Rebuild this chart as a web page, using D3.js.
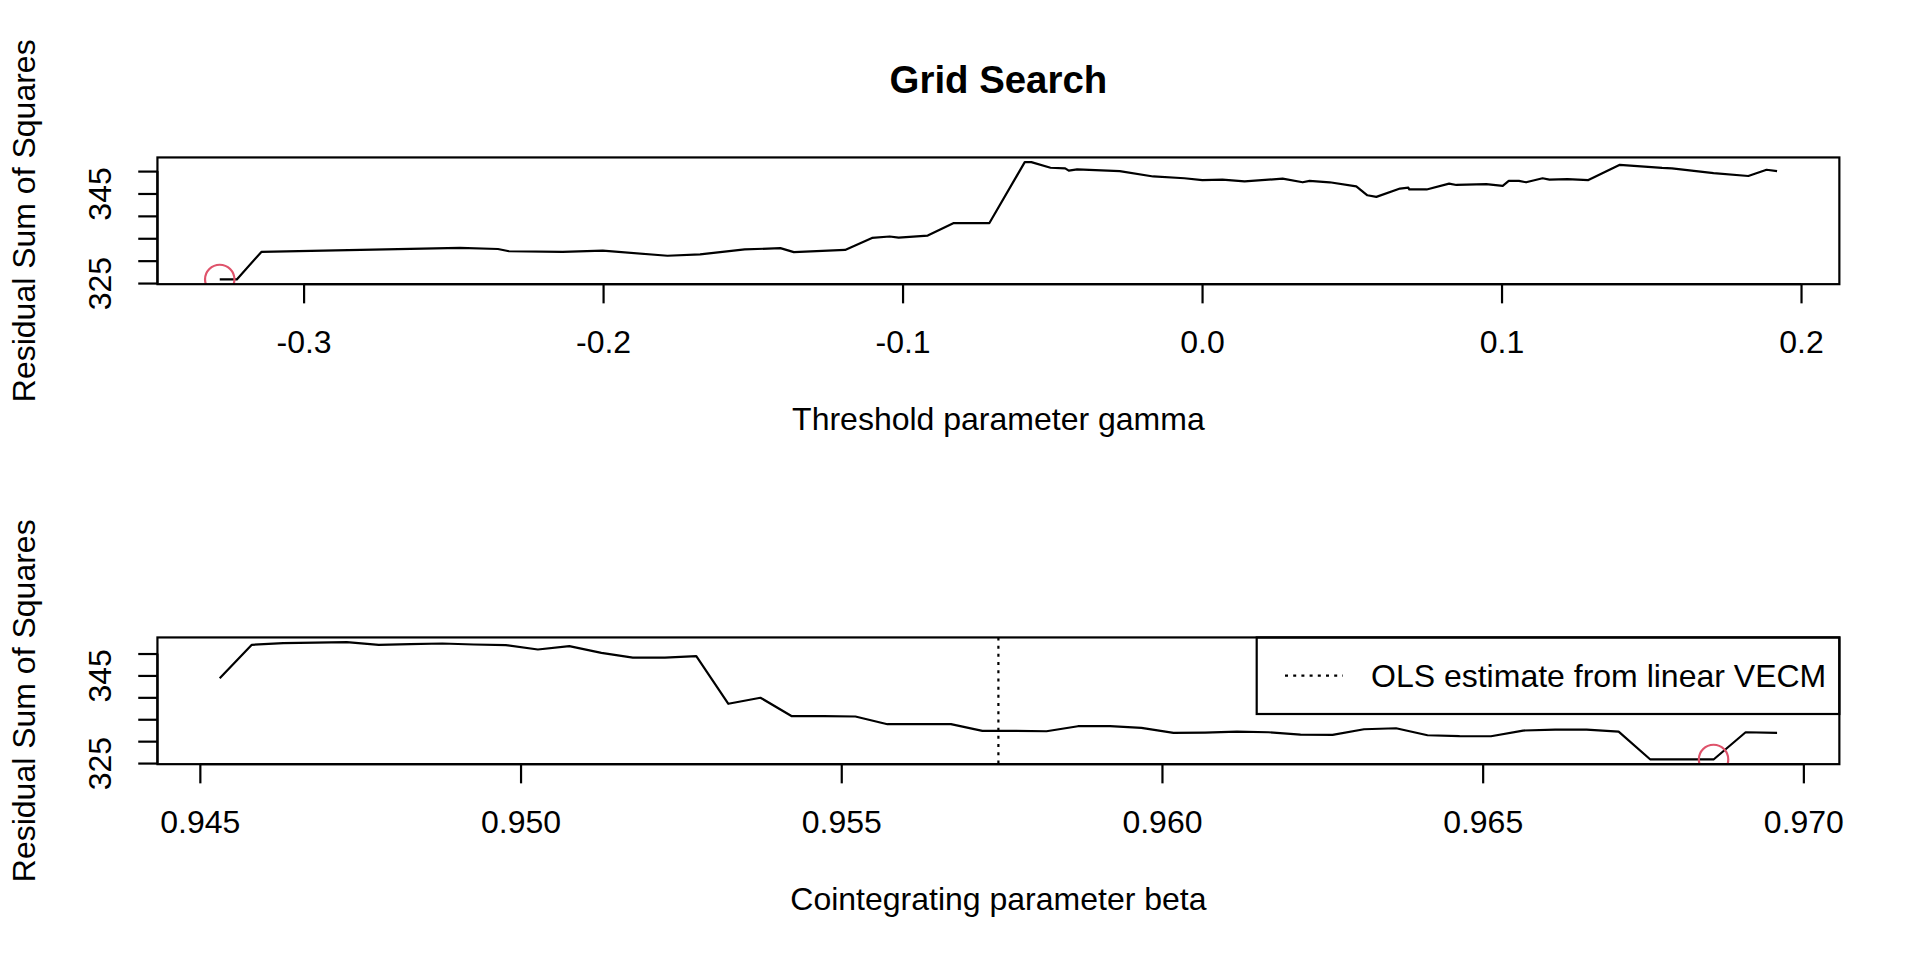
<!DOCTYPE html>
<html>
<head>
<meta charset="utf-8">
<script src="https://cdn.jsdelivr.net/npm/d3@7"></script>
<style>
html,body{margin:0;padding:0;background:#fff;}
svg{display:block;}
text{font-family:"Liberation Sans",Arial,Helvetica,sans-serif;fill:#000;}
</style>
</head>
<body>
<script>
// ---------- data ----------
const gamma = [-0.3280,-0.3223,-0.3141,-0.2478,-0.2351,-0.2314,-0.2135,-0.2001,-0.1785,-0.1676,
  -0.1527,-0.1408,-0.1363,-0.1192,-0.1102,-0.1043,-0.1013,-0.0916,-0.0829,-0.0710,
  -0.0592,-0.0570,-0.0506,-0.0457,-0.0445,-0.0417,-0.0275,-0.0163,-0.0059,0.0001,
  0.0068,0.0142,0.0269,0.0336,0.0359,0.0426,0.0515,0.0552,0.0582,0.0661,
  0.0689,0.0692,0.0750,0.0825,0.0849,0.0949,0.1004,0.1024,0.1058,0.1082,
  0.1137,0.1160,0.1220,0.1290,0.1395,0.1536,0.1569,0.1708,0.1824,0.1885,0.1920];
const rssGamma = [325.8,325.8,331.94,332.84,332.6,332.1,331.94,332.24,331.1,331.4,
  332.5,332.8,331.9,332.4,335.07,335.4,335.15,335.6,338.4,338.4,
  352.0,352.0,350.75,350.6,350.1,350.4,350.0,348.8,348.4,348.0,
  348.1,347.7,348.3,347.5,347.8,347.5,346.6,344.6,344.25,346.1,
  346.3,345.9,345.9,347.2,346.9,347.1,346.7,347.8,347.8,347.5,
  348.4,348.1,348.2,348.0,351.4,350.7,350.6,349.55,348.9,350.3,350.0];

const beta = [0.94531,0.94581,0.94630,0.94680,0.94729,0.94779,0.94828,0.94878,0.94927,0.94977,
  0.95027,0.95076,0.95126,0.95175,0.95225,0.95274,0.95324,0.95374,0.95423,0.95473,
  0.95522,0.95572,0.95621,0.95671,0.95720,0.95770,0.95820,0.95869,0.95919,0.95968,
  0.96018,0.96067,0.96117,0.96166,0.96216,0.96266,0.96315,0.96365,0.96414,0.96464,
  0.96513,0.96563,0.96613,0.96662,0.96712,0.96761,0.96811,0.96860,0.96910,0.96959];
const rssBeta = [344.34,351.99,352.37,352.5,352.6,351.99,352.14,352.29,352.06,351.91,
  350.92,351.68,350.15,349.08,349.08,349.39,338.53,339.91,335.70,335.70,
  335.63,333.87,333.87,333.87,332.34,332.34,332.26,333.41,333.41,333.03,
  331.88,331.96,332.19,332.03,331.50,331.42,332.72,332.95,331.35,331.15,
  331.12,332.42,332.65,332.65,332.19,325.86,325.86,325.82,332.03,331.88];

const olsBeta = 0.95745;

const gammaTicks = [-0.3,-0.2,-0.1,0.0,0.1,0.2];
const gammaTickLabels = ["-0.3","-0.2","-0.1","0.0","0.1","0.2"];
const betaTicks = [0.945,0.950,0.955,0.960,0.965,0.970];
const betaTickLabels = ["0.945","0.950","0.955","0.960","0.965","0.970"];
const rssTicks = [325,330,335,340,345,350];
const rssTickLabels = ["325","","","","345",""];

const titleText = "Grid Search";
const yTitle = "Residual Sum of Squares";
const gammaTitle = "Threshold parameter gamma";
const betaTitle = "Cointegrating parameter beta";
const legendText = "OLS estimate from linear VECM";

// ---------- layout ----------
const W = 1920, H = 960;
const LH = 38.4;           // one margin line
const FS = 32;             // axis font size
const LW = 2.2;
const mar = {b:5.1, l:4.1, t:4.1, r:2.1};

const svg = d3.select("body").append("svg").attr("width", W).attr("height", H);
svg.append("rect").attr("width", W).attr("height", H).attr("fill", "#fff");

function extendR(arr){
  const [a,b] = d3.extent(arr); const r = b - a;
  return [a - 0.04*r, b + 0.04*r];
}

function panel(idx, xs, ys, xTicks, xLabels, xTitle, extra){
  const top = idx*480;
  const pl = mar.l*LH, pr = W - mar.r*LH, pt = top + mar.t*LH, pb = top + 480 - mar.b*LH;
  const x = d3.scaleLinear().domain(extendR(xs)).range([pl, pr]);
  const y = d3.scaleLinear().domain(extendR(ys)).range([pb, pt]);
  const g = svg.append("g");
  const cid = "clip"+idx;
  svg.append("clipPath").attr("id", cid).append("rect")
    .attr("x", pl).attr("y", pt).attr("width", pr-pl).attr("height", pb-pt);

  // x axis
  const xa = g.append("g").attr("transform", `translate(0,${pb})`)
    .call(d3.axisBottom(x).tickValues(xTicks).tickSize(0.5*LH)
      .tickFormat((d,i)=>xLabels[i]));
  xa.select(".domain").attr("d", `M${x(xTicks[0])},0H${x(xTicks[xTicks.length-1])}`)
    .attr("stroke","#000").attr("stroke-width",LW);
  xa.selectAll(".tick line").attr("stroke","#000").attr("stroke-width",LW);
  xa.selectAll(".tick text").attr("y", 1.8*LH).attr("dy", 0)
    .attr("font-size", FS).attr("font-family", null).attr("fill","#000");

  // y axis
  const ya = g.append("g").attr("transform", `translate(${pl},0)`)
    .call(d3.axisLeft(y).tickValues(rssTicks).tickSize(0.5*LH)
      .tickFormat((d,i)=>rssTickLabels[i]));
  ya.select(".domain").attr("d", `M0,${y(rssTicks[0])}V${y(rssTicks[rssTicks.length-1])}`)
    .attr("stroke","#000").attr("stroke-width",LW);
  ya.selectAll(".tick line").attr("stroke","#000").attr("stroke-width",LW);
  ya.selectAll(".tick text").attr("x", null).attr("dy", 0)
    .attr("transform", `translate(${-1.2*LH},0) rotate(-90)`)
    .attr("text-anchor","middle").attr("font-size", FS).attr("font-family", null).attr("fill","#000");

  // data line
  const line = d3.line().x(d=>x(d[0])).y(d=>y(d[1]));
  g.append("path").datum(xs.map((v,i)=>[v, ys[i]]))
    .attr("d", line).attr("fill","none").attr("stroke","#000")
    .attr("stroke-width",LW).attr("stroke-linejoin","round")
    .attr("clip-path", `url(#${cid})`);

  // minimum marker
  const mi = d3.minIndex(ys);
  g.append("circle").attr("cx", x(xs[mi])).attr("cy", y(ys[mi])).attr("r", 14.7)
    .attr("fill","none").attr("stroke","#DF536B").attr("stroke-width",LW)
    .attr("clip-path", `url(#${cid})`);

  if (extra) extra(g, x, y, pl, pr, pt, pb);

  // box
  g.append("rect").attr("x", pl).attr("y", pt).attr("width", pr-pl).attr("height", pb-pt)
    .attr("fill","none").attr("stroke","#000").attr("stroke-width",LW);

  // axis titles
  g.append("text").attr("x", (pl+pr)/2).attr("y", pb + 3.8*LH)
    .attr("text-anchor","middle").attr("font-size", FS).text(xTitle);
  g.append("text").attr("transform", `translate(${pl - 3.2*LH},${(pt+pb)/2}) rotate(-90)`)
    .attr("text-anchor","middle").attr("font-size", FS).text(yTitle);
  return {pl, pr, pt, pb};
}

const p1 = panel(0, gamma, rssGamma, gammaTicks, gammaTickLabels, gammaTitle);
svg.append("text").attr("x", (p1.pl+p1.pr)/2).attr("y", 92.5)
  .attr("text-anchor","middle").attr("font-size", 38.4).attr("font-weight","bold").text(titleText);

panel(1, beta, rssBeta, betaTicks, betaTickLabels, betaTitle, (g, x, y, pl, pr, pt, pb) => {
  g.append("line").attr("x1", x(olsBeta)).attr("x2", x(olsBeta)).attr("y1", pt).attr("y2", pb)
    .attr("stroke","#000").attr("stroke-width",LW).attr("stroke-dasharray","3,5.2");
  // legend (top right)
  const lx0 = 1256.7, ly1 = 714;
  g.append("rect").attr("x", lx0).attr("y", pt).attr("width", pr - lx0).attr("height", ly1 - pt)
    .attr("fill","none").attr("stroke","#000").attr("stroke-width",LW);
  const cy = (pt + ly1)/2;
  g.append("line").attr("x1", 1285).attr("x2", 1343).attr("y1", cy).attr("y2", cy)
    .attr("stroke","#000").attr("stroke-width",LW).attr("stroke-dasharray","3,5.2");
  g.append("text").attr("x", 1371).attr("y", cy + 11.5).attr("font-size", FS).text(legendText);
});
</script>
</body>
</html>
